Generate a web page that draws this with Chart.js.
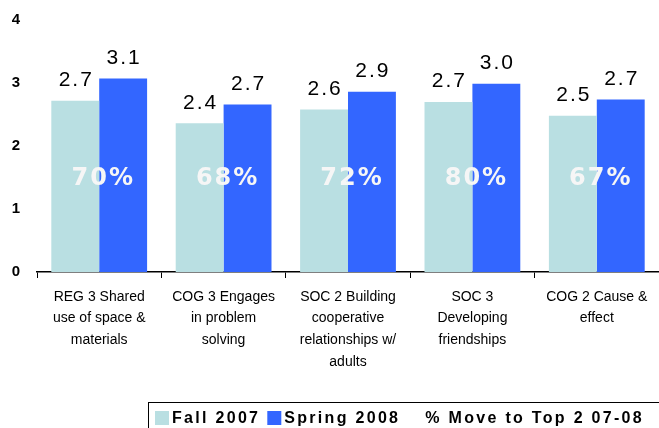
<!DOCTYPE html>
<html>
<head>
<meta charset="utf-8">
<script src="https://cdn.jsdelivr.net/npm/chart.js@4.4.1/dist/chart.umd.min.js"></script>
<style>
  html, body { margin: 0; padding: 0; background: #fff; }
  #wrap { width: 659px; height: 428px; position: relative; }
</style>
</head>
<body>
<div id="wrap"><canvas id="outcomeChart"></canvas></div>
<script>
// chart data
var categories = [
    ['REG 3 Shared', 'use of space &', 'materials'],
    ['COG 3 Engages', 'in problem', 'solving'],
    ['SOC 2 Building', 'cooperative', 'relationships w/', 'adults'],
    ['SOC 3', 'Developing', 'friendships'],
    ['COG 2 Cause &', 'effect']
];
var fall2007 = [2.72, 2.36, 2.58, 2.70, 2.48];
var spring2008 = [3.07, 2.66, 2.86, 2.99, 2.74];
var moveTop2 = [70, 68, 72, 80, 67];
var seriesNames = ['Fall 2007', 'Spring 2008', '% Move to Top 2 07-08'];
var yTicks = [0, 1, 2, 3, 4];

var fallColor = '#b9dfe2';
var springColor = '#3366ff';

// numbers above the bars
var valueLabels = {
    id: 'valueLabels',
    afterDatasetsDraw: function (chart) {
        var ctx = chart.ctx;
        ctx.save();
        ctx.font = '21px "Liberation Sans", Arial, sans-serif';
        ctx.letterSpacing = '2px';
        ctx.fillStyle = '#000';
        ctx.textAlign = 'center';
        ctx.textBaseline = 'bottom';
        chart.data.datasets.forEach(function (ds, di) {
            chart.getDatasetMeta(di).data.forEach(function (bar, i) {
                ctx.fillText(ds.data[i].toFixed(1), bar.x + 1, bar.y - 10);
            });
        });

        // % moved to top 2, centred on each category
        var x = chart.scales.x, y = chart.scales.y;
        ctx.font = 'bold 24px "DejaVu Sans", sans-serif';
        ctx.letterSpacing = '2px';
        ctx.fillStyle = '#f6f6f6';
        ctx.textBaseline = 'middle';
        moveTop2.forEach(function (p, i) {
            ctx.fillText(p + '%', x.getPixelForValue(i) + 4, y.getPixelForValue(1.48));
        });
        ctx.restore();
    }
};

// boxed legend at the bottom
var boxLegend = {
    id: 'boxLegend',
    afterDraw: function (chart) {
        var ctx = chart.ctx;
        ctx.save();
        ctx.strokeStyle = '#000';
        ctx.lineWidth = 1;
        ctx.strokeRect(148.5, 402.5, 520, 40);

        ctx.font = 'bold 16px "Liberation Sans", Arial, sans-serif';
        ctx.letterSpacing = '2.3px';
        ctx.textBaseline = 'middle';
        ctx.textAlign = 'left';
        var colors = [fallColor, springColor, null];
        var xPos = 155;
        var yMid = 418;
        seriesNames.forEach(function (name, i) {
            if (colors[i]) {
                ctx.fillStyle = colors[i];
                ctx.fillRect(xPos, yMid - 7, 14, 14);
                xPos += 17;
            } else {
                xPos += 18;
            }
            ctx.fillStyle = '#000';
            ctx.fillText(name, xPos, yMid + 1);
            xPos += ctx.measureText(name).width + 7;
        });
        ctx.restore();
    }
};

var ctx = document.getElementById('outcomeChart').getContext('2d');
var outcomeChart = new Chart(ctx, {
    type: 'bar',
    data: {
        labels: categories,
        datasets: [{
            label: seriesNames[0],
            data: fall2007,
            backgroundColor: fallColor
        }, {
            label: seriesNames[1],
            data: spring2008,
            backgroundColor: springColor
        }]
    },
    options: {
        responsive: true,
        maintainAspectRatio: false,
        animation: false,
        categoryPercentage: 0.77,
        barPercentage: 1.0,
        layout: {
            padding: { top: 20, right: 0, bottom: 46, left: 0 }
        },
        scales: {
            x: {
                grid: {
                    display: true,
                    drawOnChartArea: false,
                    drawTicks: true,
                    tickLength: 6,
                    color: '#000'
                },
                border: { display: true, color: '#000', width: 1.5 },
                ticks: {
                    color: '#000',
                    padding: 8,
                    maxRotation: 0,
                    autoSkip: false,
                    font: { family: '"Liberation Sans", Arial, sans-serif', size: 14, lineHeight: 1.55 }
                },
                afterFit: function (scale) { scale.height = 110; }
            },
            y: {
                min: 0,
                max: 4,
                afterBuildTicks: function (scale) {
                    scale.ticks = yTicks.map(function (v) { return { value: v }; });
                },
                grid: { display: false },
                border: { display: false },
                ticks: {
                    color: '#000',
                    padding: 9,
                    font: { family: '"Liberation Sans", Arial, sans-serif', size: 15, weight: 'bold' }
                },
                afterFit: function (scale) { scale.width = 37; }
            }
        },
        plugins: {
            legend: { display: false },
            tooltip: { enabled: false }
        }
    },
    plugins: [valueLabels, boxLegend]
});
</script>
</body>
</html>
